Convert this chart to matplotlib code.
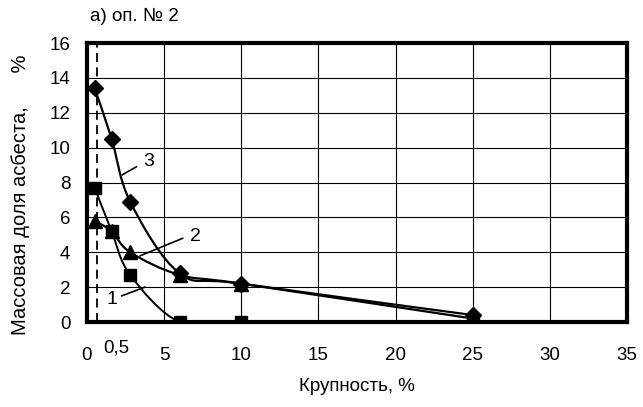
import matplotlib.pyplot as plt
from matplotlib.path import Path
from matplotlib.patches import PathPatch

plt.rcParams['font.family'] = ['Liberation Sans', 'DejaVu Sans']

# данные кривых (крупность, массовая доля асбеста)
x1 = [0.5, 1.6, 2.8, 6, 10, 25]
y1 = [7.7, 5.2, 2.7, 0.0, 0.0, 0.0]
x2 = [0.5, 1.6, 2.8, 6, 10, 25]
y2 = [5.8, 5.2, 4.0, 2.7, 2.2, 0.2]
x3 = [0.5, 1.6, 2.8, 6, 10, 25]
y3 = [13.4, 10.5, 6.9, 2.8, 2.2, 0.4]

x_ticks = [0, 5, 10, 15, 20, 25, 30, 35]
y_ticks = [0, 2, 4, 6, 8, 10, 12, 14, 16]
cut_x = 0.65


# сглаженная линия через точки (как в Excel)
def smooth_path(xs, ys):
    pts = list(zip(xs, ys))
    verts = [pts[0]]
    codes = [Path.MOVETO]
    n = len(pts)
    for i in range(n - 1):
        p0 = pts[i - 1] if i > 0 else pts[i]
        p1 = pts[i]
        p2 = pts[i + 1]
        p3 = pts[i + 2] if i + 2 < n else pts[i + 1]
        c1 = (p1[0] + (p2[0] - p0[0]) / 6, p1[1] + (p2[1] - p0[1]) / 6)
        c2 = (p2[0] - (p3[0] - p1[0]) / 6, p2[1] - (p3[1] - p1[1]) / 6)
        verts += [c1, c2, p2]
        codes += [Path.CURVE4] * 3
    return Path(verts, codes)


fig = plt.figure(figsize=(6.43, 4.07), dpi=100)
ax = fig.add_axes([0.1353, 0.2088, 0.8397, 0.6855])

for y in y_ticks[1:-1]:
    ax.axhline(y, color='black', lw=0.8, zorder=1)
for x in x_ticks[1:-1]:
    ax.axvline(x, color='black', lw=0.8, zorder=1)

ax.axvline(cut_x, color='black', lw=1.3, ls=(0, (5, 3)), zorder=2)

for xs, ys, lw in [(x1, y1, 1.4), (x2, y2, 1.6), (x3, y3, 1.6)]:
    ax.add_patch(PathPatch(smooth_path(xs, ys), fill=False, edgecolor='black', lw=lw, zorder=3))

ax.plot(x1, y1, ls='none', marker='s', ms=9, color='black', zorder=4)
ax.plot(x2, y2, ls='none', marker='^', ms=10, color='black', zorder=5)
ax.plot(x3, y3, ls='none', marker='D', ms=8.5, color='black', zorder=6)

# подписи кривых
ax.text(3.97, 9.2, '3', fontsize=14, ha='center', va='center')
ax.plot([3.2, 2.3], [8.9, 8.45], color='black', lw=1.2)
ax.text(7.0, 4.9, '2', fontsize=14, ha='center', va='center')
ax.plot([6.2, 3.45], [4.8, 3.8], color='black', lw=1.2)
ax.text(1.6, 1.3, '1', fontsize=14, ha='center', va='center')
ax.plot([2.25, 3.75], [1.5, 2.0], color='black', lw=1.2)

ax.set_xlim(0, 35)
ax.set_ylim(0, 16)
ax.set_xticks(x_ticks)
ax.set_yticks(y_ticks)
ax.tick_params(length=0, labelsize=13.5)
ax.tick_params(axis='x', pad=18)
ax.tick_params(axis='y', pad=12)
for s in ax.spines.values():
    s.set_linewidth(3)

ax.text(1.9, -1.5, '0,5', fontsize=13.5, ha='center', va='center')
ax.set_xlabel('Крупность, %', fontsize=13.5, labelpad=10)
ax.set_ylabel('Массовая доля асбеста,      %', fontsize=14.5)
ax.yaxis.set_label_coords(-0.105, 0.455)
fig.text(0.14, 0.96, 'а) оп. № 2', fontsize=13.5, ha='left', va='center')

fig.savefig('out.png', dpi=100)
